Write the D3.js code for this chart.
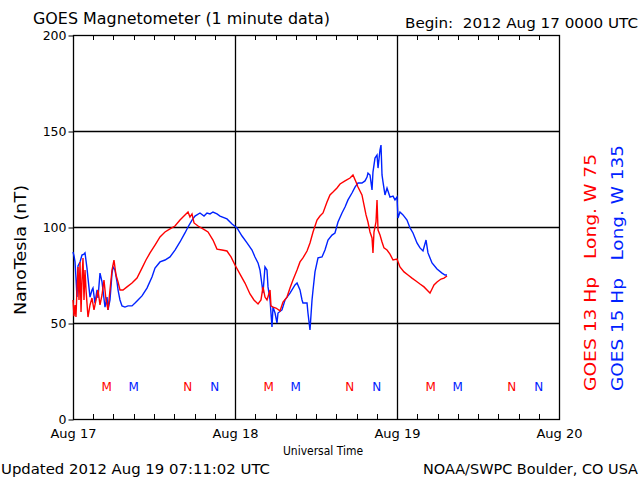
<!DOCTYPE html>
<html><head><meta charset="utf-8">
<script src="https://cdn.jsdelivr.net/npm/d3@7"></script>
<style>
html,body{margin:0;padding:0;background:#fff;}
svg{display:block;}
text{font-family:"DejaVu Sans",sans-serif;white-space:pre;}
</style></head>
<body>
<svg id="c" width="640" height="480"></svg>
<script>
// hours since 2012 Aug 17 00:00 UTC, value in nT
const goes13 = [
[0,62.0],[0.15,53.6],[0.30,59.4],[0.44,53.1],[0.59,67.2],[0.74,79.2],[0.89,62.0],[1.04,81.8],[1.19,55.7],[1.33,72.4],
[1.48,83.9],[1.63,62.0],[1.78,77.6],[1.93,67.2],[2.22,53.1],[2.52,59.4],[2.81,63.0],[3.11,56.8],[3.41,62.0],[3.70,67.2],
[4.00,59.4],[4.30,64.6],[4.59,72.4],[4.89,62.0],[5.19,56.8],[5.48,67.2],[5.78,77.6],[6.07,82.8],[6.37,75.0],[6.67,71.4],
[6.96,67.2],[7.41,67.2],[8.00,68.8],[8.74,70.8],[9.48,73.4],[10.22,78.6],[10.81,82.8],[11.41,86.5],[12.15,90.6],[12.89,94.8],
[13.63,97.4],[14.37,99.0],[15.11,100.5],[15.85,103.6],[16.44,105.7],[17.04,107.8],[17.33,105.2],[17.63,106.8],[17.93,102.1],[18.52,100.5],
[19.26,99.0],[20.00,97.4],[20.74,93.2],[21.33,88.5],[22.07,88.0],[22.81,87.5],[23.41,84.4],[24.00,80.2],[24.74,75.5],[25.48,70.8],
[26.22,65.1],[26.81,62.0],[27.41,59.9],[27.85,62.0],[28.15,68.8],[28.44,63.5],[28.74,62.0],[29.19,67.2],[29.33,58.9],[29.63,58.3],
[30.07,57.8],[30.67,56.3],[31.11,60.9],[31.70,63.5],[32.15,68.2],[32.59,72.4],[33.19,77.6],[33.63,81.8],[34.07,83.9],[34.67,87.5],
[35.11,91.7],[35.56,97.4],[36.15,103.6],[36.59,105.7],[37.04,107.3],[37.63,113.0],[38.07,116.7],[38.52,118.2],[39.11,120.3],[39.56,122.4],
[40.30,124.0],[41.04,125.5],[41.48,127.1],[41.93,123.4],[42.22,120.8],[42.81,116.7],[43.11,111.5],[43.41,106.3],[43.70,102.6],[44.00,97.4],
[44.30,94.3],[44.44,86.5],[44.59,97.4],[44.89,102.6],[45.04,114.1],[45.19,98.4],[45.48,95.8],[45.78,92.2],[46.07,89.1],[46.52,88.0],
[46.96,85.9],[47.41,82.8],[48.00,83.3],[48.44,79.2],[49.04,76.6],[49.63,75.0],[50.22,73.4],[50.81,71.9],[51.41,70.3],[52.00,68.8],
[52.59,66.7],[52.89,65.6],[53.19,67.7],[53.48,69.8],[53.93,71.4],[54.52,72.9],[54.96,73.4],[55.41,74.5]
];
const goes15 = [
[0,87.0],[0.15,84.9],[0.30,81.8],[0.44,73.4],[0.59,63.5],[0.74,79.7],[1.04,81.8],[1.33,85.4],[1.63,85.9],[1.78,86.5],
[2.07,78.6],[2.22,73.4],[2.52,63.5],[2.81,67.2],[2.96,68.2],[3.26,60.4],[3.56,67.2],[3.70,63.0],[4.00,76.0],[4.30,71.4],
[4.44,67.2],[4.74,58.3],[5.04,63.5],[5.19,56.8],[5.48,62.0],[5.78,76.0],[5.93,79.2],[6.22,77.6],[6.52,71.4],[6.67,67.2],
[6.96,62.0],[7.26,58.9],[7.70,58.3],[8.15,58.9],[8.74,58.9],[9.19,60.4],[9.63,62.0],[10.22,64.1],[10.96,68.2],[11.70,74.0],
[12.15,78.6],[12.89,81.8],[13.63,82.8],[14.37,84.4],[15.11,88.0],[15.85,92.2],[16.59,96.9],[17.04,100.0],[17.63,103.6],[18.07,105.7],
[18.81,107.3],[19.41,105.7],[19.85,107.3],[20.30,106.8],[20.74,107.8],[21.33,106.8],[21.78,105.7],[22.81,104.2],[23.56,101.6],[24.30,99.5],
[25.04,95.3],[25.78,91.7],[26.52,88.0],[26.96,84.4],[27.41,81.3],[27.70,77.6],[28.00,69.8],[28.15,65.6],[28.44,79.2],[28.74,77.6],
[28.89,68.8],[29.19,62.0],[29.48,47.9],[29.63,58.3],[29.93,55.2],[30.22,50.0],[30.37,55.2],[30.96,56.8],[31.41,62.0],[32.15,65.6],
[32.89,69.8],[33.19,70.8],[33.63,67.2],[33.93,62.0],[34.07,60.4],[34.67,60.4],[34.81,55.2],[35.11,46.4],[35.41,62.0],[35.56,67.2],
[35.85,76.6],[36.30,83.9],[36.89,84.4],[37.33,88.0],[37.78,93.2],[38.37,95.8],[38.81,96.9],[39.26,102.6],[39.85,107.3],[40.30,110.4],
[40.74,114.1],[41.33,117.7],[41.78,120.8],[42.22,122.9],[42.81,122.9],[43.26,124.0],[43.56,126.0],[43.70,128.1],[44.00,127.1],[44.30,119.3],
[44.44,128.6],[44.74,135.9],[45.04,137.5],[45.19,130.7],[45.48,140.1],[45.63,142.7],[45.78,127.1],[45.93,123.4],[46.22,116.7],[46.52,120.3],
[46.96,115.6],[47.41,116.1],[47.70,114.1],[48.00,115.6],[48.15,104.7],[48.44,107.8],[48.89,106.3],[49.48,103.6],[49.93,99.5],[50.37,96.9],
[50.96,91.7],[51.41,89.1],[51.85,87.5],[52.30,93.2],[52.59,86.5],[53.19,81.3],[53.93,78.1],[54.67,76.0],[55.11,75.0],[55.41,75.0]
];
// local midnight (M) / noon (N) markers, hours since start
const markers13 = [[5,"M"],[17,"N"],[29,"M"],[41,"N"],[53,"M"],[65,"N"]];
const markers15 = [[9,"M"],[21,"N"],[33,"M"],[45,"N"],[57,"M"],[69,"N"]];
const markerLevel = 17;
const dayLabels = ["Aug 17","Aug 18","Aug 19","Aug 20"];
const dayHours = [0,24,48,72];
const yTicks = [0,50,100,150,200];
const minorHours = d3.range(3,72,3);

const RED = "#ff0000", BLUE = "#0022ff";
const svg = d3.select("#c");
const L=73,R=559,T=35,B=419;
const x = d3.scaleLinear().domain([0,72]).range([L,R]);
const y = d3.scaleLinear().domain([0,200]).range([B,T]);

// grid lines
svg.append("g").selectAll("line").data([50,100,150]).join("line")
  .attr("x1",L).attr("x2",R).attr("y1",d=>y(d)+0.5).attr("y2",d=>y(d)+0.5)
  .attr("stroke","#000").attr("stroke-width",1.3);
svg.append("g").selectAll("line").data([24,48]).join("line")
  .attr("y1",T).attr("y2",B).attr("x1",d=>x(d)+0.5).attr("x2",d=>x(d)+0.5)
  .attr("stroke","#000").attr("stroke-width",1.3);

// minor ticks top & bottom
const mt = svg.append("g").attr("stroke","#000").attr("stroke-width",1);
mt.selectAll(".tt").data(minorHours).join("line").attr("class","tt")
  .attr("x1",d=>Math.round(x(d))+0.5).attr("x2",d=>Math.round(x(d))+0.5).attr("y1",T).attr("y2",T+5);
mt.selectAll(".bt").data(minorHours).join("line").attr("class","bt")
  .attr("x1",d=>Math.round(x(d))+0.5).attr("x2",d=>Math.round(x(d))+0.5).attr("y1",B).attr("y2",B-5);

// y axis
const yAxis = d3.axisLeft(y).tickValues(yTicks).tickSize(5).tickPadding(2).tickFormat(d3.format("d"));
const ya = svg.append("g").attr("transform",`translate(${L+0.5},0.5)`).call(yAxis);
ya.select(".domain").remove();
ya.selectAll("line").attr("stroke","#000");
ya.selectAll("text").attr("font-size",12.5).attr("fill","#000").attr("font-family","DejaVu Sans").attr("dy","0.3em");

// x axis labels
const xAxis = d3.axisBottom(x).tickValues(dayHours).tickSize(0).tickPadding(12).tickFormat((d,i)=>dayLabels[i]);
const xa = svg.append("g").attr("transform",`translate(0,${B})`).call(xAxis);
xa.select(".domain").remove();
xa.selectAll("text").attr("font-size",13).attr("fill","#000").attr("font-family","DejaVu Sans").attr("dy","0.55em");

// frame
svg.append("rect").attr("x",L+0.5).attr("y",T+0.5).attr("width",R-L).attr("height",B-T)
  .attr("fill","none").attr("stroke","#000").attr("stroke-width",1.3);

// data lines
const line = d3.line().x(d=>x(d[0])).y(d=>y(d[1]));
svg.append("path").datum(goes15).attr("d",line).attr("fill","none").attr("stroke",BLUE).attr("stroke-width",1.4);
svg.append("path").datum(goes13).attr("d",line).attr("fill","none").attr("stroke",RED).attr("stroke-width",1.4);

// markers
svg.append("g").selectAll("text").data(markers13).join("text")
  .attr("x",d=>x(d[0])).attr("y",y(markerLevel)).attr("dy","0.35em").attr("text-anchor","middle")
  .attr("font-size",12).attr("fill",RED).text(d=>d[1]);
svg.append("g").selectAll("text").data(markers15).join("text")
  .attr("x",d=>x(d[0])).attr("y",y(markerLevel)).attr("dy","0.35em").attr("text-anchor","middle")
  .attr("font-size",12).attr("fill",BLUE).text(d=>d[1]);

// texts
function txt(s,xp,yp,size,anchor,len,col,rot){
  const t = svg.append("text").attr("x",xp).attr("y",yp).attr("font-size",size)
    .attr("text-anchor",anchor||"start").attr("fill",col||"#000").text(s);
  if(len) t.attr("textLength",len).attr("lengthAdjust","spacingAndGlyphs");
  if(rot) t.attr("transform",`rotate(-90,${xp},${yp})`);
  return t;
}
txt("GOES Magnetometer (1 minute data)",33,24,15,"start",297);
txt("Begin:  2012 Aug 17 0000 UTC",405,28,14,"start",233);
txt("Universal Time",323,455,13,"middle",80);
txt("Updated 2012 Aug 19 07:11:02 UTC",1,474,14,"start",269);
txt("NOAA/SWPC Boulder, CO USA",638,474,14,"end",215);
txt("NanoTesla (nT)",26,250,16,"middle",130,"#000",true);
txt("GOES 13 Hp   Long. W 75",596,391,15,"start",237,RED,true);
txt("GOES 15 Hp   Long. W 135",623,391,15,"start",246,BLUE,true);
</script>
</body></html>
